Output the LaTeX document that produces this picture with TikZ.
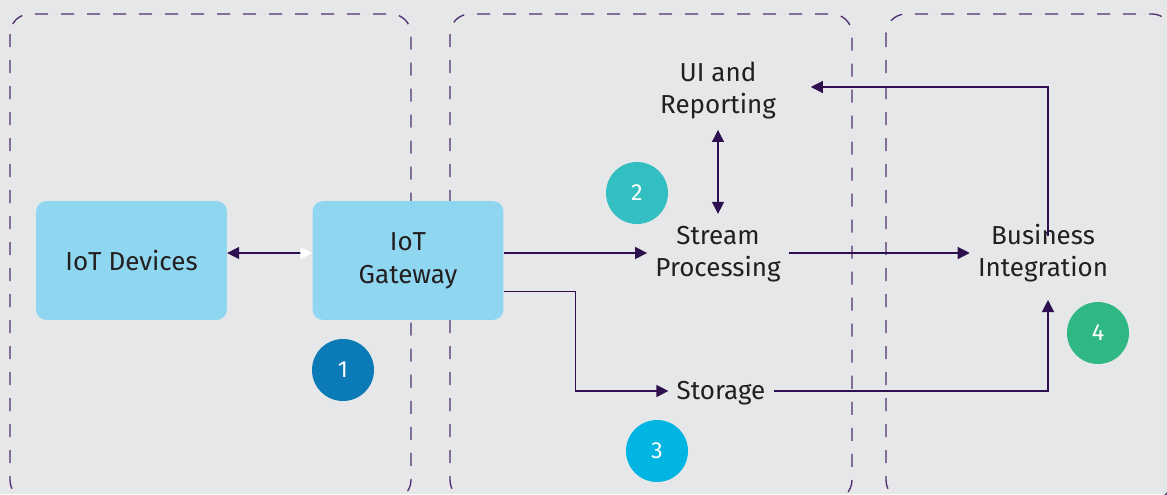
\documentclass[tikz,border=0pt]{standalone}
\usepackage{fontspec}
\setmainfont{Fira Sans}
\usetikzlibrary{arrows.meta,calc}
\definecolor{bg}{HTML}{E6E7E9}
\definecolor{dashc}{HTML}{4F2F70}
\definecolor{arrc}{HTML}{2E0F4F}
\definecolor{boxc}{HTML}{8FD7F0}
\definecolor{txt}{HTML}{231F20}
\definecolor{cA}{HTML}{0A7BB6}
\definecolor{cB}{HTML}{33BEC1}
\definecolor{cC}{HTML}{00B5E2}
\definecolor{cD}{HTML}{2FB884}
\tikzset{
  zone/.style={draw=dashc, line width=1pt, dash pattern=on 9.75pt off 9.75pt, rounded corners=15pt},
  devbox/.style={fill=boxc, rounded corners=7.5pt, minimum width=143pt, minimum height=89pt, text=txt, align=center, font=\fontsize{19.5}{24}\selectfont},
  lbl/.style={text=txt, align=center, font=\fontsize{19.5}{24}\selectfont, inner xsep=6pt, inner ysep=3pt},
  badge/.style={circle, minimum size=46.5pt, inner sep=0pt, text=white, font=\fontsize{17.5}{18}\selectfont},
  arr/.style={draw=arrc, line width=0.9pt, -{Triangle[length=9pt,width=9pt]}},
}
\begin{document}
\begin{tikzpicture}[x=0.75pt,y=-0.75pt]
\useasboundingbox (0,0) rectangle (1167,494);
\fill[bg] (0,0) rectangle (1167,494);
\begin{scope}
\clip (0,0) rectangle (1167,494);
\draw[zone] (10,14) rectangle (411,500);
\draw[zone] (450,14) rectangle (852,500);
\draw[zone] (886,14) rectangle (1172,500);
\end{scope}
\node[devbox] (dev) at (131.5,260.5) {IoT Devices};
\node[devbox] (gw) at (408,260.5) {\raisebox{-2.5pt}{\begin{tabular}{@{}c@{}}IoT\\[0.5pt]Gateway\end{tabular}}};
\node[lbl] (ui) at (718,90.5) {UI and\\Reporting};
\node[lbl] (stream) at (718,254) {Stream\\Processing};
\node[lbl] (bus) at (1043,253.5) {Business\\Integration};
\node[lbl] (stor) at (721,393) {Storage};
\node[badge, fill=cA] (b1) at (343,370) {1};
\node[badge, fill=cB] (b2) at (637,193) {2};
\node[badge, fill=cC] (b3) at (657,451) {3};
\node[badge, fill=cD] (b4) at (1098,333) {4};
% devices <-> gateway
\draw[draw=arrc, line width=0.9pt, {Triangle[length=9pt,width=9pt]}-{Triangle[length=9pt,width=9pt,color=white]}] (dev.east |- 0,253) -- (gw.west |- 0,253);
% gateway -> stream
\draw[arr] (gw.east |- 0,253) -- (stream.west |- 0,253);
% stream -> business
\draw[arr] (stream.east |- 0,253) -- (bus.west |- 0,253);
% gateway -> storage
\draw[arr] ([yshift=-23pt]gw.east) -- ++(72,0) |- (stor.west |- 0,391);
% storage -> business
\draw[arr] (stor.east |- 0,391) -| ([xshift=3.75pt,yshift=-10pt]bus.south);
% business -> UI
\draw[arr] ([xshift=3.75pt,yshift=-12pt]bus.north) |- ([xshift=20pt]ui.east |- 0,87);
% UI <-> stream
\draw[arr, {Triangle[length=9pt,width=9pt]}-{Triangle[length=9pt,width=9pt]}] ([yshift=-5pt]ui.south) -- ([yshift=6pt]stream.north);
\end{tikzpicture}
\end{document}
